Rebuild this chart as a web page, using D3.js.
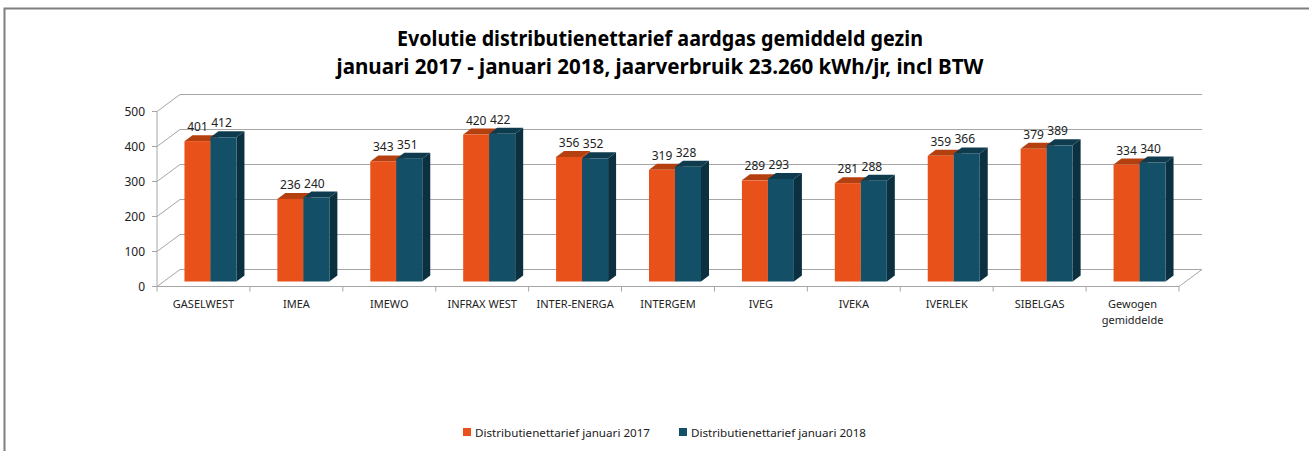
<!DOCTYPE html>
<meta charset="utf-8">
<style>
  body {margin: 0; background: #fff;}
  svg {display: block; font-family: 'Noto Sans', sans-serif;}
</style>
<body>
<svg width="1309" height="451"></svg>
<script src="https://cdn.jsdelivr.net/npm/d3@7"></script>
<script>

var categories = ["GASELWEST", "IMEA", "IMEWO", "INFRAX WEST", "INTER-ENERGA", "INTERGEM",
                  "IVEG", "IVEKA", "IVERLEK", "SIBELGAS", "Gewogen gemiddelde"];
var values2017 = [401, 236, 343, 420, 356, 319, 289, 281, 359, 379, 334];
var values2018 = [412, 240, 351, 422, 352, 328, 293, 288, 366, 389, 340];
var seriesNames = ["Distributienettarief januari 2017", "Distributienettarief januari 2018"];
var yTicks = [0, 100, 200, 300, 400, 500];
var titleLines = ["Evolutie distributienettarief aardgas gemiddeld gezin",
                  "januari 2017 - januari 2018, jaarverbruik 23.260 kWh/jr, incl BTW"];

var svg = d3.select("svg");

// colours: front, top, side
var palette = [
  {front: "#E8521A", top: "#B5400F", side: "#9E3A10"},
  {front: "#134F66", top: "#0E3C4E", side: "#0B3140"}
];

// frame
svg.append("path")
    .attr("d", "M4.5,451 V8.5 H1309")
    .attr("fill", "none")
    .attr("stroke", "#7f7f7f")
    .attr("stroke-width", 2);

// title
svg.append("g").selectAll("text")
    .data(titleLines)
    .enter().append("text")
    .attr("x", 660)
    .attr("y", function(d, i) { return 46 + i * 28; })
    .attr("text-anchor", "middle")
    .attr("textLength", function(d, i) { return i == 0 ? 526 : 647; })
    .attr("lengthAdjust", "spacingAndGlyphs")
    .style("font-size", "21px")
    .style("font-weight", "bold")
    .style("fill", "#000")
    .text(function(d) { return d; });

// scales
var x = d3.scaleBand().domain(categories).range([157, 1179]);
var y = d3.scaleLinear().domain([0, 500]).range([286.5, 111.5]);

var depth = {dx: 23, dy: -17};      // wall depth
var barOff = {dx: 7, dy: -5};       // bar front face inside the box
var barDepth = {dx: 8, dy: -6};
var barW = 26;

var grid = svg.append("g")
    .style("stroke", "#a6a6a6")
    .style("fill", "none")
    .style("stroke-width", "1px");

// side wall diagonals + back wall lines
yTicks.forEach(function(t) {
  var yy = y(t);
  grid.append("line")
      .attr("x1", x.range()[0]).attr("y1", yy)
      .attr("x2", x.range()[0] + depth.dx).attr("y2", yy + depth.dy);
  grid.append("line")
      .attr("x1", x.range()[0] + depth.dx).attr("y1", yy + depth.dy)
      .attr("x2", x.range()[1] + depth.dx).attr("y2", yy + depth.dy);
});

// floor right edge
grid.append("line")
    .attr("x1", x.range()[1]).attr("y1", y(0))
    .attr("x2", x.range()[1] + depth.dx).attr("y2", y(0) + depth.dy);

// front y axis
grid.append("line")
    .attr("x1", 157).attr("y1", y(500)).attr("x2", 157).attr("y2", y(0));
yTicks.forEach(function(t) {
  grid.append("line")
      .attr("x1", 152).attr("y1", y(t)).attr("x2", 157).attr("y2", y(t));
});

// front x axis with ticks at category boundaries
grid.append("line")
    .attr("x1", x.range()[0]).attr("y1", y(0)).attr("x2", x.range()[1]).attr("y2", y(0));
categories.concat([null]).forEach(function(c, i) {
  var xx = x.range()[0] + i * x.bandwidth();
  grid.append("line")
      .attr("x1", xx).attr("y1", y(0)).attr("x2", xx).attr("y2", y(0) + 5);
});

// y tick labels
svg.append("g").selectAll("text")
    .data(yTicks)
    .enter().append("text")
    .attr("x", 145)
    .attr("y", function(d) { return y(d) + 4; })
    .attr("text-anchor", "end")
    .style("font-size", "12px")
    .style("fill", "#222")
    .text(function(d) { return d; });

// category labels
var catLabels = svg.append("g").selectAll("text")
    .data(categories)
    .enter().append("text")
    .attr("text-anchor", "middle")
    .style("font-size", "11px")
    .style("fill", "#222");
catLabels.each(function(d) {
  var words = d == "Gewogen gemiddelde" ? ["Gewogen", "gemiddelde"] : [d];
  var t = d3.select(this);
  words.forEach(function(w, i) {
    t.append("tspan")
        .attr("x", x(d) + x.bandwidth() / 2)
        .attr("y", 308 + i * 16)
        .text(w);
  });
});

// 3d bars
var bars = [];
categories.forEach(function(c, i) {
  [values2017[i], values2018[i]].forEach(function(v, s) {
    bars.push({cat: c, value: v, series: s});
  });
});

function barX(d) {
  return x(d.cat) + x.bandwidth() / 2 + barOff.dx - barW + d.series * barW;
}

var barG = svg.append("g").selectAll("g")
    .data(bars)
    .enter().append("g");

barG.each(function(d) {
  var g = d3.select(this);
  var x0 = barX(d), x1 = x0 + barW;
  var yb = y(0) + barOff.dy, yt = y(d.value) + barOff.dy;
  var col = palette[d.series];
  g.append("path")
      .attr("d", "M" + x1 + "," + yt + " L" + (x1 + barDepth.dx) + "," + (yt + barDepth.dy) +
                 " L" + (x1 + barDepth.dx) + "," + (yb + barDepth.dy) + " L" + x1 + "," + yb + "Z")
      .attr("fill", col.side);
  g.append("path")
      .attr("d", "M" + x0 + "," + yt + " L" + (x0 + barDepth.dx) + "," + (yt + barDepth.dy) +
                 " L" + (x1 + barDepth.dx) + "," + (yt + barDepth.dy) + " L" + x1 + "," + yt + "Z")
      .attr("fill", col.top);
  g.append("rect")
      .attr("x", x0).attr("y", yt)
      .attr("width", barW).attr("height", yb - yt)
      .attr("fill", col.front);
});

// value labels
svg.append("g").selectAll("text")
    .data(bars)
    .enter().append("text")
    .attr("x", function(d) { return barX(d) + barW / 2 - d.series * 2; })
    .attr("y", function(d) { return y(d.value) + barOff.dy - 10; })
    .attr("text-anchor", "middle")
    .style("font-size", "12px")
    .style("fill", "#222")
    .text(function(d) { return d.value; });

// legend
var legend = svg.append("g").selectAll("g")
    .data(seriesNames)
    .enter().append("g")
    .attr("transform", function(d, i) { return "translate(" + (463 + i * 216) + ",428)"; });
legend.append("rect")
    .attr("width", 8).attr("height", 8)
    .attr("fill", function(d, i) { return palette[i].front; });
legend.append("text")
    .attr("x", 12).attr("y", 8.5)
    .attr("textLength", 175)
    .attr("lengthAdjust", "spacingAndGlyphs")
    .style("font-size", "11px")
    .style("fill", "#222")
    .text(function(d) { return d; });

</script>
</body>
